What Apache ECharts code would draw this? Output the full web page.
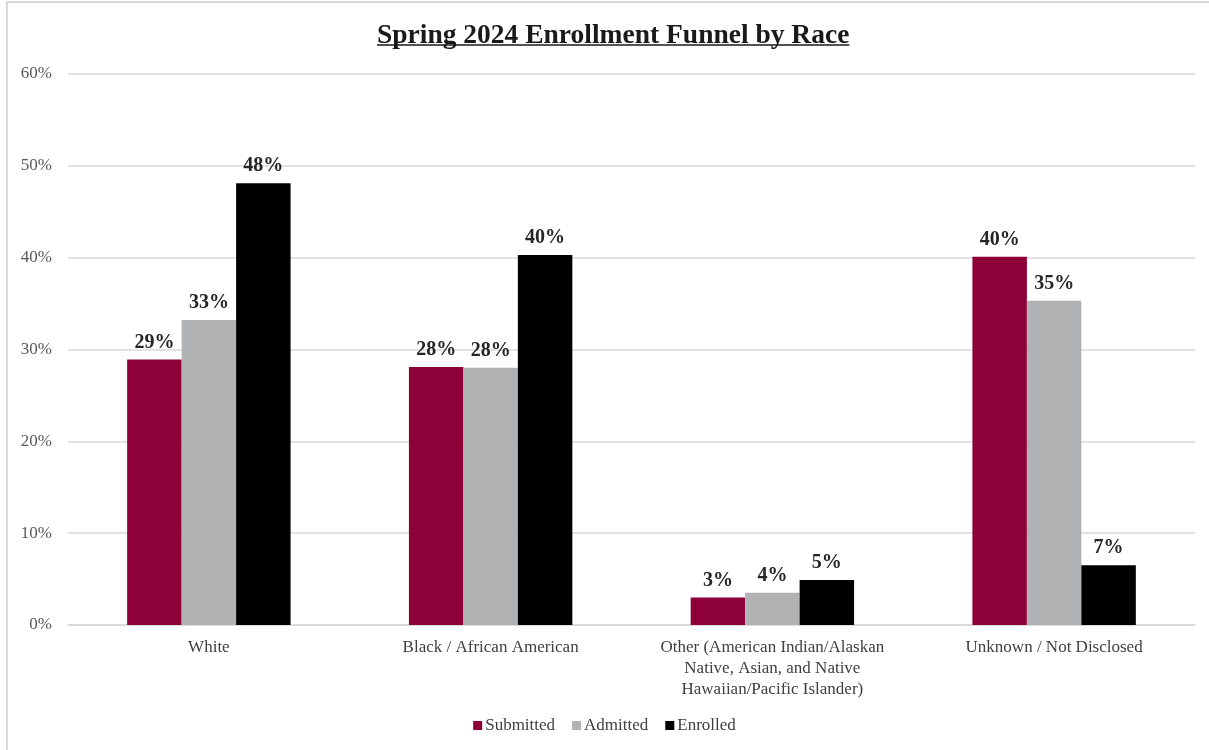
<!DOCTYPE html>
<html>
<head>
<meta charset="utf-8">
<script src="https://cdn.jsdelivr.net/npm/echarts@6/dist/echarts.min.js"></script>
<style>
html,body{margin:0;padding:0;background:#fff;}
#chart{width:1209px;height:750px;}
</style>
</head>
<body>
<div id="chart"></div>
<script>
const categories = [
  'White',
  'Black / African American',
  'Other (American Indian/Alaskan\nNative, Asian, and Native\nHawaiian/Pacific Islander)',
  'Unknown / Not Disclosed'
];
const submitted = [28.9, 28.1, 3.0, 40.1];
const admitted = [33.2, 28.0, 3.5, 35.3];
const enrolled = [48.1, 40.3, 4.9, 6.5];
const seriesNames = ['Submitted', 'Admitted', 'Enrolled'];
const seriesColors = ['#8E0038', '#B1B2B4', '#000000'];
const yTicks = [0, 10, 20, 30, 40, 50, 60];
const titleText = 'Spring 2024 Enrollment Funnel by Race';

const serif = '"Liberation Serif", "DejaVu Serif", serif';
const titleSize = 27.5;
const ctx = document.createElement('canvas').getContext('2d');
ctx.font = 'bold ' + titleSize + 'px "Liberation Serif"';
const titleW = ctx.measureText(titleText).width;
const titleCx = 608;
const titleX = Math.round(titleCx - titleW / 2);

const chart = echarts.init(document.getElementById('chart'));

const mk = (name, data, color) => ({
  name, type: 'bar', data,
  barGap: '0%', barCategoryGap: '42%',
  itemStyle: { color },
  label: {
    show: true, position: 'top', distance: 7,
    formatter: p => Math.round(p.value) + '%',
    fontFamily: serif, fontWeight: 'bold', fontSize: 20, color: '#262626'
  }
});

chart.setOption({
  animation: false,
  title: {
    text: titleText,
    left: titleX, top: 17,
    textStyle: { fontFamily: serif, fontWeight: 'bold', fontSize: titleSize, color: '#1a1a1a' }
  },
  graphic: [
    { type: 'rect', shape: { x: 7, y: 2, width: 1220, height: 760 }, style: { fill: 'none', stroke: '#d9d9d9', lineWidth: 2 }, silent: true },
    { type: 'line', shape: { x1: titleX + 5, y1: 45, x2: titleX + 5 + titleW, y2: 45 }, style: { stroke: '#1a1a1a', lineWidth: 1.5 }, silent: true }
  ],
  legend: {
    bottom: 11, left: 'center',
    itemWidth: 9, itemHeight: 9, itemGap: 17,
    icon: 'rect',
    textStyle: { fontFamily: serif, fontSize: 17, color: '#404040', padding: [0, 0, 0, -2] },
    data: seriesNames
  },
  grid: { left: 68, right: 14, top: 74, bottom: 125 },
  xAxis: {
    type: 'category', data: categories,
    axisLine: { lineStyle: { color: '#d9d9d9', width: 1.5 } },
    axisTick: { show: false },
    axisLabel: { fontFamily: serif, fontSize: 17, color: '#404040', margin: 12, lineHeight: 21, interval: 0 }
  },
  yAxis: {
    type: 'value', min: 0, max: 60, interval: 10,
    axisLabel: { formatter: v => v + '%', fontFamily: serif, fontSize: 17, color: '#595959', margin: 16 },
    splitLine: { lineStyle: { color: '#d9d9d9', width: 1.5 } },
    axisLine: { show: false }, axisTick: { show: false }
  },
  series: [
    mk(seriesNames[0], submitted, seriesColors[0]),
    mk(seriesNames[1], admitted, seriesColors[1]),
    mk(seriesNames[2], enrolled, seriesColors[2])
  ]
});
</script>
</body>
</html>
